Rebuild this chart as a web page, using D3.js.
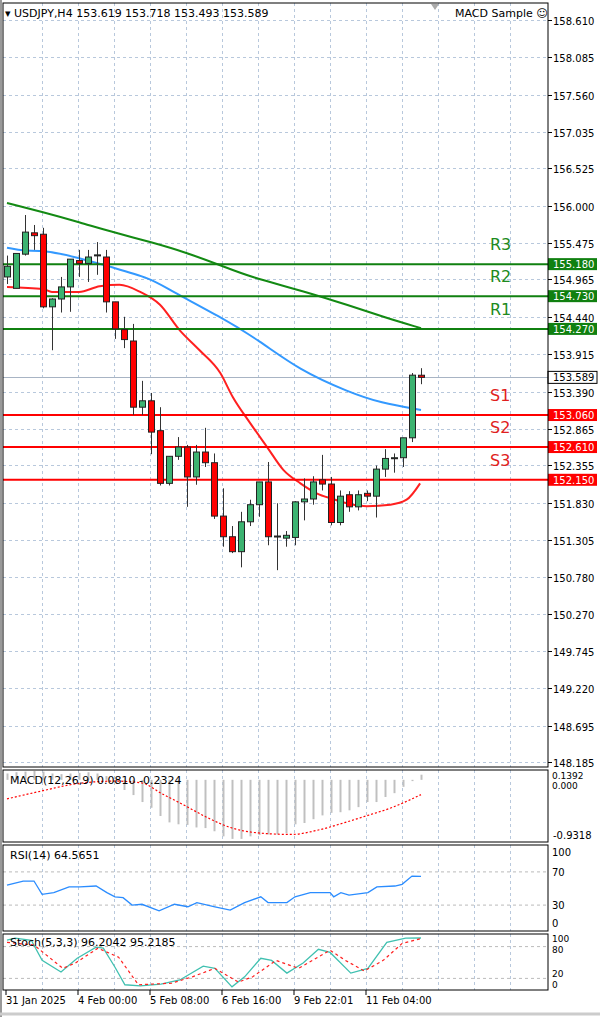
<!DOCTYPE html>
<html><head><meta charset="utf-8">
<script src="https://cdn.jsdelivr.net/npm/d3@7/dist/d3.min.js"></script>
<style>body{margin:0;background:#fff}svg{display:block;font-family:Tahoma,"DejaVu Sans",sans-serif}</style>
</head><body><svg id="c" width="600" height="1017"></svg>
<script>
const open=[155.00,154.84,155.32,155.62,155.60,154.58,154.69,154.86,155.23,155.19,155.30,155.28,154.65,154.26,154.10,153.17,153.26,152.84,152.10,152.48,152.61,152.19,152.54,152.39,151.64,151.35,151.14,151.56,151.80,152.12,151.35,151.33,151.34,151.84,151.88,152.15,152.09,151.55,151.94,151.77,151.96,151.92,152.30,152.45,152.46,152.74,153.619];
const high=[155.30,155.33,155.87,155.73,155.69,154.70,155.00,155.25,155.38,155.38,155.49,155.38,154.65,154.44,154.34,153.54,153.37,153.17,152.48,152.75,152.64,152.64,152.88,152.52,152.03,151.50,151.70,151.87,152.12,152.40,151.82,151.43,151.85,152.17,152.20,152.50,152.19,152.00,151.99,152.00,152.00,152.35,152.58,152.52,152.74,153.65,153.718];
const low=[154.90,154.84,155.30,155.38,154.56,153.97,154.50,154.51,155.00,154.93,155.03,154.50,154.13,154.00,153.06,153.06,152.51,152.07,152.07,152.43,151.77,152.08,152.33,151.60,151.21,151.12,150.92,151.50,151.63,151.23,150.88,151.21,151.23,151.58,151.80,152.00,151.51,151.51,151.70,151.72,151.85,151.62,152.19,152.25,152.33,152.68,153.493];
const close=[155.15,155.33,155.63,155.58,154.58,154.69,154.86,155.25,155.19,155.28,155.31,154.65,154.27,154.12,153.17,153.26,152.82,152.10,152.48,152.61,152.19,152.54,152.39,151.64,151.35,151.14,151.56,151.80,152.12,151.35,151.36,151.37,151.84,151.88,152.12,152.09,151.55,151.92,151.77,151.94,151.92,152.30,152.45,152.46,152.74,153.62,153.589];
const maSlow=[[0,156.04],[4,155.91],[8,155.77],[12,155.62],[16,155.49],[20,155.34],[24,155.15],[27,155.00],[33,154.80],[38,154.60],[42,154.43],[46,154.28]];
const maMid=[[0,155.41],[2,155.36],[4,155.38],[8,155.27],[11.5,155.14],[16,154.98],[18,154.82],[23.7,154.44],[28,154.11],[32.5,153.69],[38,153.38],[41.5,153.23],[46,153.13]];
const maFast=[[0,154.86],[4,154.83],[5,154.79],[8,154.79],[10.3,154.87],[12.5,154.89],[14.8,154.79],[17,154.61],[19.2,154.25],[21.4,153.97],[23.7,153.65],[25.1,153.31],[27,152.95],[28.9,152.61],[30.7,152.29],[32.6,152.10],[34.4,151.96],[36.2,151.88],[38.1,151.81],[40,151.78],[42.6,151.80],[44.4,151.87],[45.9,152.10]];
const priceTicks=["158.610","158.085","157.560","157.035","156.525","156.000","155.475","154.965","154.440","153.915","153.390","152.865","152.355","151.830","151.305","150.780","150.270","149.745","149.220","148.695","148.185"];
const resist=[["R3",155.18],["R2",154.73],["R1",154.27]];
const support=[["S1",153.06],["S2",152.61],["S3",152.15]];
const macdHist=[0.10,0.12,0.13,0.14,0.13,0.10,0.09,0.10,0.11,0.12,0.10,0.06,-0.05,-0.16,-0.24,-0.35,-0.44,-0.57,-0.67,-0.70,-0.71,-0.75,-0.76,-0.81,-0.89,-0.93,-0.93,-0.89,-0.87,-0.86,-0.86,-0.84,-0.70,-0.68,-0.62,-0.56,-0.52,-0.51,-0.48,-0.43,-0.35,-0.35,-0.27,-0.21,-0.11,-0.02,0.081];
const macdSignal=[[0,-0.30],[3.4,-0.19],[7.8,-0.06],[12,-0.02],[15,-0.05],[17.1,-0.21],[19.7,-0.40],[22.2,-0.59],[24.8,-0.75],[28.2,-0.84],[31.6,-0.86],[34.6,-0.79],[37.6,-0.67],[40.1,-0.56],[42.7,-0.44],[46,-0.2324]];
const rsi=[[0,54],[1.8,59],[3,59],[3.9,43],[5.2,45],[6.9,52],[8.1,52],[9.9,53],[11.1,45],[12,40],[12.9,39],[13.9,30],[15,31],[16.9,23],[18.6,31],[20.1,28],[21.1,33],[23.1,28],[24.8,24],[26.4,33],[28.2,40],[29,33],[31.1,33],[32,40],[33.7,45],[35.9,45],[36.3,40],[37.1,45],[38,42],[40.1,45],[41.1,52],[43.1,53],[43.9,55],[45,65],[46,64.57]];
const stochMain=[[0,92],[0.9,96],[2.7,92],[3.9,54],[6,32],[7.8,58],[9.9,79],[10.7,77],[12,41],[13.1,8],[14.8,6],[17.1,9],[19.2,17],[21.8,43],[23.1,39],[25,4],[26.4,23],[28.2,58],[29.4,54],[31.1,30],[32.9,49],[34.6,75],[35.9,69],[38.2,30],[40.1,39],[42.2,88],[44.3,96],[46,96.2]];
const stochSig=[[0,88],[3,83],[6.2,39],[7.6,49],[10.1,77],[12.4,60],[14.6,8],[18.3,11],[20.6,23],[23.1,39],[25.7,13],[27.3,23],[29.9,54],[32.4,39],[35.9,73],[37.6,54],[39.7,34],[41.8,54],[43.9,86],[46,95.2]];
const dateLabels=[[0,"31 Jan 2025"],[8,"4 Feb 00:00"],[16,"5 Feb 08:00"],[24,"6 Feb 16:00"],[32,"9 Feb 22:01"],[40,"11 Feb 04:00"]];

const svg=d3.select("#c");
const R=548, L=3;
const x=d3.scaleLinear().domain([0,46]).range([7,421]);
const y=d3.scaleLinear().domain([148.185,158.61]).range([762,20]);
const gridC="#b8c8dc";
const panels=[[3,767],[770,842],[845,931],[934,990]];
panels.forEach(([t,b])=>{
  for(let i=4;i<60;i+=4){const gx=x(i)-0.5; if(gx>R-2)break;
    svg.append("line").attr("x1",gx).attr("x2",gx).attr("y1",t).attr("y2",b).attr("stroke",gridC).attr("stroke-dasharray","3,3");}
});
priceTicks.forEach(t=>{const yy=Math.round(y(+t))+0.5;
  svg.append("line").attr("x1",L).attr("x2",R).attr("y1",yy).attr("y2",yy).attr("stroke",gridC).attr("stroke-dasharray","3,3");
  svg.append("line").attr("x1",R).attr("x2",R+4).attr("y1",yy).attr("y2",yy).attr("stroke","#000");
  svg.append("text").attr("x",553).attr("y",yy+4).attr("font-size",10).text(t);
});
svg.append("line").attr("x1",L).attr("x2",R).attr("y1",Math.round(y(close[46]))+0.5).attr("y2",Math.round(y(close[46]))+0.5).attr("stroke","#a8b4c4");
const ln=d3.line().x(d=>x(d[0])).y(d=>y(d[1])).curve(d3.curveBasis);
svg.append("path").attr("d",ln(maSlow)).attr("fill","none").attr("stroke","#138a13").attr("stroke-width",2);
svg.append("path").attr("d",ln(maMid)).attr("fill","none").attr("stroke","#3399ff").attr("stroke-width",2);
svg.append("path").attr("d",d3.line().x(d=>x(d[0])).y(d=>y(d[1])).curve(d3.curveMonotoneX)(maFast)).attr("fill","none").attr("stroke","#ff2020").attr("stroke-width",2);
const lvl=(arr,col,lcol)=>arr.forEach(([n,v])=>{const yy=y(v);
  svg.append("line").attr("x1",L).attr("x2",R).attr("y1",yy).attr("y2",yy).attr("stroke",col).attr("stroke-width",2);
  svg.append("text").attr("x",490).attr("y",yy-14).attr("font-size",16).attr("fill",lcol).text(n);
  svg.append("rect").attr("x",R).attr("y",yy-6).attr("width",49).attr("height",12).attr("fill",col);
  svg.append("text").attr("x",553).attr("y",yy+4).attr("font-size",10).attr("fill","#fff").text(v.toFixed(3));
});
lvl(resist,"#108010","#208a20");
lvl(support,"#ff0000","#e02020");
d3.range(open.length).forEach(i=>{const cx=Math.round(x(i))+0.5;
  svg.append("line").attr("x1",cx).attr("x2",cx).attr("y1",y(high[i])).attr("y2",y(low[i])).attr("stroke","#333");
  const t=y(Math.max(open[i],close[i])), b=y(Math.min(open[i],close[i]));
  svg.append("rect").attr("x",cx-3).attr("y",t).attr("width",6).attr("height",Math.max(1,b-t))
    .attr("fill",close[i]>=open[i]?"#3cb371":"#ff0000").attr("stroke","#222").attr("stroke-width",1);
});
{const yy=y(close[46]);
svg.append("rect").attr("x",R).attr("y",yy-6).attr("width",49).attr("height",12).attr("fill","#fff").attr("stroke","#000");
svg.append("text").attr("x",553).attr("y",yy+4).attr("font-size",10).text(close[46].toFixed(3));}
svg.append("text").attr("x",5).attr("y",17).attr("font-size",11).text("▾ USDJPY,H4  153.619 153.718 153.493 153.589");
svg.append("text").attr("x",455).attr("y",17).attr("font-size",11).text("MACD Sample ☺");
svg.append("path").attr("d","M431,4 L439,4 L435,10 Z").attr("fill","#aaa");
// MACD
const ym=d3.scaleLinear().domain([-0.9318,0.1392]).range([839,771]);
d3.range(macdHist.length).forEach(i=>{const cx=Math.round(x(i))+0.5;
  svg.append("line").attr("x1",cx).attr("x2",cx).attr("y1",ym(0)).attr("y2",ym(macdHist[i])).attr("stroke","#c0c0c0").attr("stroke-width",2);
});
svg.append("path").attr("d",d3.line().x(d=>x(d[0])).y(d=>ym(d[1])).curve(d3.curveMonotoneX)(macdSignal)).attr("fill","none").attr("stroke","#ff0000").attr("stroke-width",1.2).attr("stroke-dasharray","2,2");
svg.append("text").attr("x",10).attr("y",784).attr("font-size",11).text("MACD(12,26,9) 0.0810 -0.2324");
svg.append("text").attr("x",552).attr("y",789).attr("font-size",9).text("0.000");
svg.append("text").attr("x",552).attr("y",779).attr("font-size",9).text("0.1392");
svg.append("text").attr("x",553).attr("y",839).attr("font-size",10).text("-0.9318");
// RSI
const yr=d3.scaleLinear().domain([0,100]).range([930,847]);
[70,30].forEach(v=>svg.append("line").attr("x1",L).attr("x2",R).attr("y1",yr(v)).attr("y2",yr(v)).attr("stroke","#bbb").attr("stroke-dasharray","3,3"));
svg.append("path").attr("d",d3.line().x(d=>x(d[0])).y(d=>yr(d[1]))(rsi)).attr("fill","none").attr("stroke","#2a8cff").attr("stroke-width",1.3);
svg.append("text").attr("x",10).attr("y",859).attr("font-size",11).text("RSI(14) 64.5651");
[[100,856],[70,876],[30,909],[0,927]].forEach(([v,yy])=>svg.append("text").attr("x",552).attr("y",yy).attr("font-size",10).text(v));
// Stoch
const ys=d3.scaleLinear().domain([0,100]).range([989,936]);
[80,20].forEach(v=>svg.append("line").attr("x1",L).attr("x2",R).attr("y1",ys(v)).attr("y2",ys(v)).attr("stroke","#bbb").attr("stroke-dasharray","3,3"));
svg.append("path").attr("d",d3.line().x(d=>x(d[0])).y(d=>ys(d[1]))(stochMain)).attr("fill","none").attr("stroke","#40c0b0").attr("stroke-width",1.3);
svg.append("path").attr("d",d3.line().x(d=>x(d[0])).y(d=>ys(d[1]))(stochSig)).attr("fill","none").attr("stroke","#ff2020").attr("stroke-width",1.2).attr("stroke-dasharray","3,3");
svg.append("text").attr("x",10).attr("y",946).attr("font-size",11).text("Stoch(5,3,3) 96.2042 95.2185");
[[100,942],[80,953],[20,977],[0,988]].forEach(([v,yy])=>svg.append("text").attr("x",552).attr("y",yy).attr("font-size",9).text(v));
panels.forEach(([t,b])=>svg.append("rect").attr("x",L).attr("y",t).attr("width",R-L).attr("height",b-t).attr("fill","none").attr("stroke","#000"));
svg.append("line").attr("x1",1).attr("x2",1).attr("y1",0).attr("y2",1017).attr("stroke","#999").attr("stroke-width",2);
dateLabels.forEach(([i,t])=>{const xx=x(i)-1;
  svg.append("line").attr("x1",xx).attr("x2",xx).attr("y1",990).attr("y2",995).attr("stroke","#000");
  svg.append("text").attr("x",xx).attr("y",1004).attr("font-size",10).text(t);});
svg.append("line").attr("x1",0).attr("x2",600).attr("y1",1014).attr("y2",1014).attr("stroke","#ccc").attr("stroke-width",3);
</script></body></html>
